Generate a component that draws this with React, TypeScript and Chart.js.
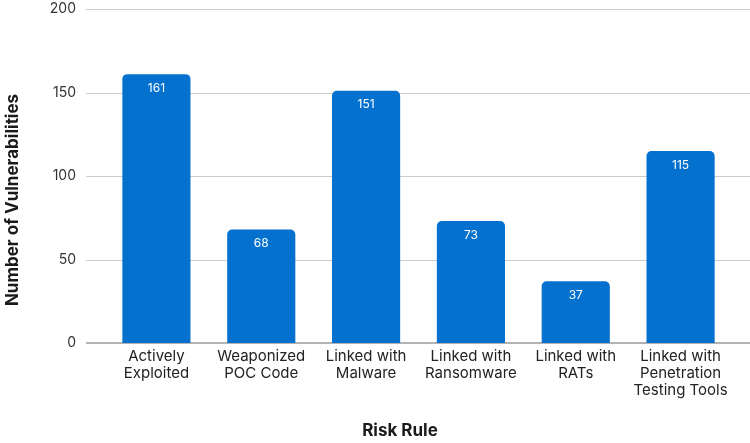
import React, { useEffect, useRef } from "react";
import { Chart, registerables } from "chart.js";

Chart.register(...registerables);

const categories: string[][] = [
  ["Actively", "Exploited"],
  ["Weaponized", "POC Code"],
  ["Linked with", "Malware"],
  ["Linked with", "Ransomware"],
  ["Linked with", "RATs"],
  ["Linked with", "Penetration", "Testing Tools"],
];
const values: number[] = [161, 68, 151, 73, 37, 115];
const yTicks: number[] = [0, 50, 100, 150, 200];
const xTitle = "Risk Rule";
const yTitle = "Number of Vulnerabilities";

const FONT = "Inter, 'Noto Sans', sans-serif";

export default function App() {
  const ref = useRef<HTMLCanvasElement | null>(null);
  useEffect(() => {
    if (!ref.current) return;
    const decor = {
      id: "decor",
      beforeDatasetsDraw(chart: any) {
        const ctx = chart.ctx;
        const y = chart.scales.y;
        ctx.save();
        ctx.font = `14px ${FONT}`;
        ctx.textAlign = "right";
        ctx.textBaseline = "middle";
        yTicks.forEach((v) => {
          const py = Math.round(y.getPixelForValue(v));
          if (v === 0) {
            ctx.strokeStyle = "#b3b3b3";
            ctx.lineWidth = 2;
          } else {
            ctx.strokeStyle = "#cccccc";
            ctx.lineWidth = 1;
          }
          ctx.beginPath();
          const off = v === 0 ? 0 : 0.5;
          ctx.moveTo(86, py + off);
          ctx.lineTo(750, py + off);
          ctx.stroke();
          ctx.fillStyle = "#333333";
          ctx.fillText(String(v), 76, py);
        });
        ctx.restore();
      },
      afterDatasetsDraw(chart: any) {
        const ctx = chart.ctx;
        const meta = chart.getDatasetMeta(0);
        ctx.save();
        ctx.fillStyle = "#ffffff";
        ctx.font = `12px ${FONT}`;
        ctx.textAlign = "center";
        ctx.textBaseline = "middle";
        meta.data.forEach((bar: any, i: number) => {
          ctx.fillText(String(values[i]), bar.x, bar.y + 14);
        });
        ctx.fillStyle = "#1a1a1a";
        ctx.font = `bold 17px ${FONT}`;
        ctx.fillText(xTitle, 400, 431);
        ctx.translate(13, 200);
        ctx.rotate(-Math.PI / 2);
        ctx.fillText(yTitle, 0, 0);
        ctx.restore();
      },
    };
    const chart = new Chart(ref.current, {
      type: "bar",
      data: {
        labels: categories,
        datasets: [
          {
            data: values,
            backgroundColor: "#0571cf",
            borderRadius: { topLeft: 5, topRight: 5, bottomLeft: 0, bottomRight: 0 },
            borderSkipped: "bottom",
            barPercentage: 0.65,
            categoryPercentage: 1,
          },
        ],
      },
      options: {
        responsive: false,
        animation: false,
        devicePixelRatio: 1,
        layout: { padding: { left: 0, right: 17, top: 9, bottom: 0 } },
        plugins: { legend: { display: false }, tooltip: { enabled: false } },
        scales: {
          x: {
            grid: { display: false, drawTicks: false },
            border: { display: false },
            ticks: {
              color: "#222222",
              font: { family: FONT, size: 15, lineHeight: 1.13 },
              padding: 5,
              maxRotation: 0,
              autoSkip: false,
            },
            afterFit: (s: any) => {
              s.height = 100;
            },
          },
          y: {
            min: 0,
            max: 200,
            grid: { display: false, drawTicks: false },
            border: { display: false },
            ticks: { display: false, stepSize: 50 },
            afterFit: (s: any) => {
              s.width = 104;
            },
          },
        },
      },
      plugins: [decor],
    });
    return () => chart.destroy();
  }, []);
  return (
    <div style={{ position: "fixed", left: 0, top: 0, width: 750, height: 443, background: "#fff" }}>
      <canvas ref={ref} width={750} height={443} style={{ width: 750, height: 443 }} />
    </div>
  );
}
